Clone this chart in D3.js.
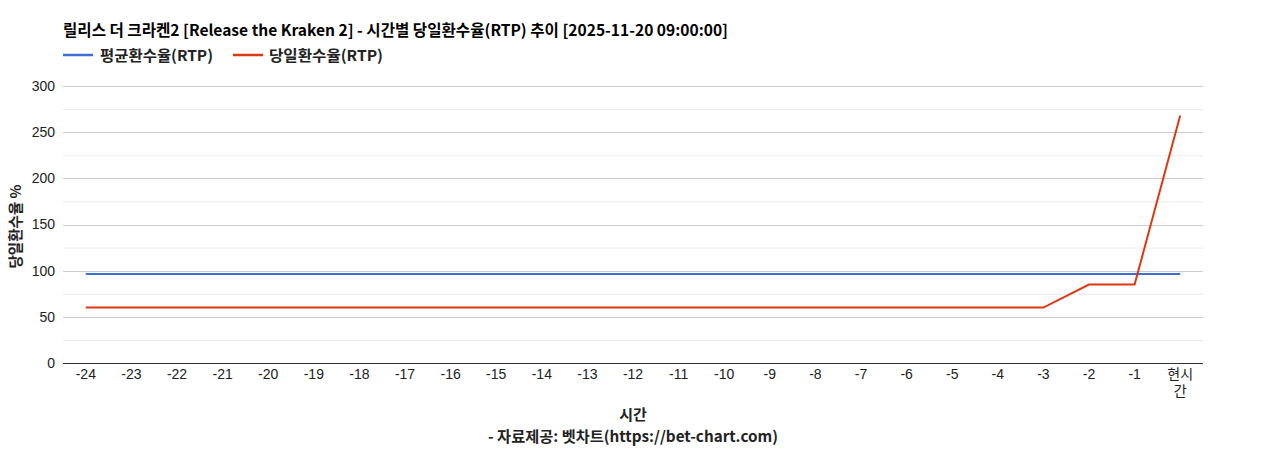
<!DOCTYPE html>
<html><head><meta charset="utf-8">
<script src="https://cdn.jsdelivr.net/npm/d3@7"></script>
<style>
body{margin:0;background:#fff;}
text{font-family:"Noto Sans CJK KR","Liberation Sans",Arial,sans-serif;}
.tick text{font-family:"Liberation Sans",Arial,"Noto Sans CJK KR",sans-serif;}
</style></head>
<body><svg id="c" width="1268" height="450"></svg>
<script>
const categories = ["-24","-23","-22","-21","-20","-19","-18","-17","-16","-15","-14","-13","-12","-11","-10","-9","-8","-7","-6","-5","-4","-3","-2","-1","현시간"];
const avgRTP = [96.5,96.5,96.5,96.5,96.5,96.5,96.5,96.5,96.5,96.5,96.5,96.5,96.5,96.5,96.5,96.5,96.5,96.5,96.5,96.5,96.5,96.5,96.5,96.5,96.5];
const dayRTP = [60,60,60,60,60,60,60,60,60,60,60,60,60,60,60,60,60,60,60,60,60,60,85,85,268];
const yTicks = [0,50,100,150,200,250,300];
const minorTicks = [25,75,125,175,225,275];
const seriesNames = ["평균환수율(RTP)","당일환수율(RTP)"];
const colors = ["#3c6fd6","#dc3912"];
const title = "릴리스 더 크라켄2 [Release the Kraken 2] - 시간별 당일환수율(RTP) 추이 [2025-11-20 09:00:00]";

const svg = d3.select("#c");
const L=63,R=1203,T=86,B=363;
const x = d3.scaleBand().domain(categories).range([L,R]);
const y = d3.scaleLinear().domain([0,300]).range([B,T]);

svg.append("text").attr("x",63).attr("y",36).attr("font-size",15.5).attr("font-weight","bold").attr("fill","#000")
  .attr("textLength",665).attr("lengthAdjust","spacingAndGlyphs").text(title);

// legend
const lg = [[63,100,113],[233,269,114]];
seriesNames.forEach((n,i)=>{
  svg.append("line").attr("x1",lg[i][0]).attr("x2",lg[i][0]+30).attr("y1",55).attr("y2",55).attr("stroke",colors[i]).attr("stroke-width",2.5);
  svg.append("text").attr("x",lg[i][1]).attr("y",60.5).attr("font-size",15).attr("font-weight","bold").attr("fill","#222")
    .attr("textLength",lg[i][2]).attr("lengthAdjust","spacingAndGlyphs").text(n);
});

// grid
svg.append("g").selectAll("line").data(minorTicks).join("line")
  .attr("x1",L).attr("x2",R).attr("y1",d=>y(d)+0.5).attr("y2",d=>y(d)+0.5).attr("stroke","#ebebeb");
svg.append("g").selectAll("line").data(yTicks.filter(d=>d>0)).join("line")
  .attr("x1",L).attr("x2",R).attr("y1",d=>Math.round(y(d))+0.5).attr("y2",d=>Math.round(y(d))+0.5).attr("stroke","#cccccc");

// y axis labels
const ya = svg.append("g").attr("transform",`translate(${L},0)`).call(d3.axisLeft(y).tickValues(yTicks).tickSize(0).tickPadding(8));
ya.select(".domain").remove();
ya.selectAll("text").attr("font-size",14).attr("fill","#222");

// x axis
const xa = svg.append("g").attr("transform",`translate(0,${B})`).call(d3.axisBottom(x).tickSize(0).tickPadding(6));
xa.select(".domain").remove();
xa.selectAll("text").attr("font-size",14).attr("fill","#222").each(function(d){
  if(d==="현시간"){
    const t=d3.select(this); t.text(null);
    t.append("tspan").attr("x",0).attr("dy","0.71em").text("현시");
    t.append("tspan").attr("x",0).attr("dy","1.25em").text("간");
  }
});
svg.append("line").attr("x1",L).attr("x2",R).attr("y1",B+0.5).attr("y2",B+0.5).attr("stroke","#333");

// lines
const line = d3.line().x((d,i)=>x(categories[i])+x.bandwidth()/2).y(d=>y(d));
[avgRTP,dayRTP].forEach((s,i)=>{
  svg.append("path").datum(s).attr("d",line).attr("fill","none").attr("stroke",colors[i]).attr("stroke-width",2);
});

// axis titles
svg.append("text").attr("transform",`translate(21,${(T+B)/2+2}) rotate(-90)`).attr("text-anchor","middle").attr("font-size",14.5).attr("font-weight","bold").attr("fill","#222").text("당일환수율 %");
svg.append("text").attr("x",633).attr("y",420).attr("text-anchor","middle").attr("font-size",15).attr("font-weight","bold").attr("fill","#222").text("시간");
svg.append("text").attr("x",633).attr("y",442).attr("text-anchor","middle").attr("font-size",15).attr("font-weight","bold").attr("fill","#222")
  .attr("textLength",290).attr("lengthAdjust","spacingAndGlyphs").text("- 자료제공: 벳차트(https://bet-chart.com)");
</script></body></html>
